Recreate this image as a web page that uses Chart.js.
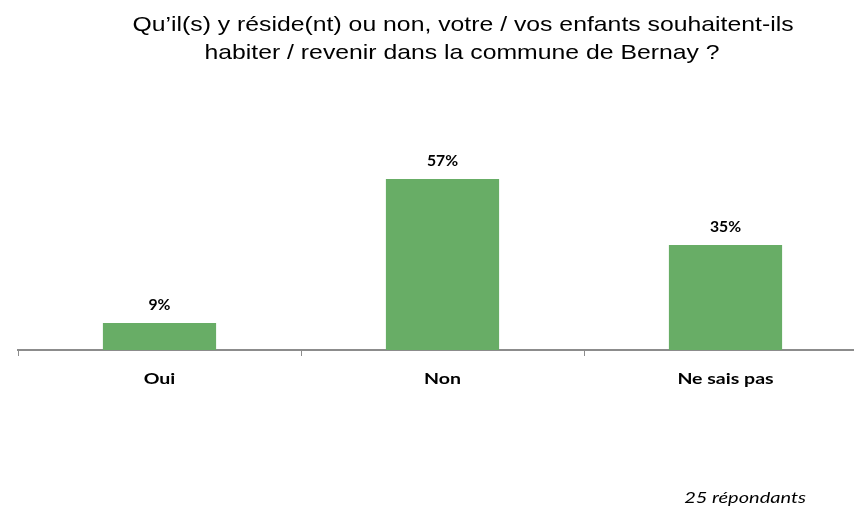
<!DOCTYPE html>
<html>
<head>
<meta charset="utf-8">
<script src="https://cdn.jsdelivr.net/npm/chart.js@4"></script>
<style>
  html, body { margin: 0; padding: 0; background: #fff; overflow: hidden; }
  #wrap { width: 880px; height: 508px; }
</style>
</head>
<body>
<div id="wrap"><canvas id="kidsChart" width="880" height="508"></canvas></div>
<script>
// Chart data
var categories = ['Oui', 'Non', 'Ne sais pas'];
var percents = [9, 57, 35];
var titleLines = ['Qu\u2019il(s) y réside(nt) ou non, votre / vos enfants souhaitent-ils',
                  'habiter / revenir dans la commune de Bernay ?'];
var footnote = '25 répondants';

// the source picture is a bit wider than normal, so text is stretched a little
var stretch = 1.22;

function wideText(c, text, x, y, sx) {
    c.save();
    c.translate(x, y);
    c.scale(sx, 1);
    c.fillText(text, 0, 0);
    c.restore();
}

// Draws title, category names, value labels and footnote
var textPlugin = {
    id: 'texts',
    afterDraw: function(chart) {
        var c = chart.ctx;
        c.save();
        c.fillStyle = '#000';
        c.textAlign = 'center';
        c.textBaseline = 'alphabetic';
        c.font = '21px "Liberation Sans", Arial, sans-serif';
        wideText(c, titleLines[0], 463, 31, 1.18);
        wideText(c, titleLines[1], 462, 59, 1.18);

        var xScale = chart.scales.x;
        c.font = 'bold 16px Lato, sans-serif';
        categories.forEach(function(name, i) {
            wideText(c, name, xScale.getPixelForValue(i), 384, stretch);
        });

        c.font = 'bold 15px Lato, sans-serif';
        var meta = chart.getDatasetMeta(0);
        meta.data.forEach(function(bar, i) {
            wideText(c, percents[i] + '%', bar.x, bar.y - 13, 1.05);
        });

        c.textAlign = 'right';
        c.font = 'italic 16px Lato, sans-serif';
        wideText(c, footnote, 806, 503, 1.25);
        c.restore();
    }
};

var ctx = document.getElementById('kidsChart').getContext('2d');
var kidsChart = new Chart(ctx, {
    type: 'bar',
    data: {
        labels: categories,
        datasets: [{
            data: percents,
            backgroundColor: '#68ad66',
            borderWidth: 0,
            barPercentage: 0.8,
            categoryPercentage: 0.5
        }]
    },
    options: {
        responsive: false,
        animation: false,
        layout: { padding: { top: 170, left: 18, right: 13, bottom: 102 } },
        plugins: {
            legend: { display: false },
            tooltip: { enabled: false }
        },
        scales: {
            x: {
                grid: { drawOnChartArea: false, tickLength: 6, color: '#8c8c8c' },
                border: { color: '#8c8c8c', width: 2 },
                ticks: {
                    color: 'rgba(0,0,0,0)',
                    padding: 16,
                    font: { family: 'Lato', weight: 'bold', size: 15 }
                }
            },
            y: {
                display: false,
                min: 0,
                max: 60
            }
        }
    },
    plugins: [textPlugin]
});
</script>
</body>
</html>
